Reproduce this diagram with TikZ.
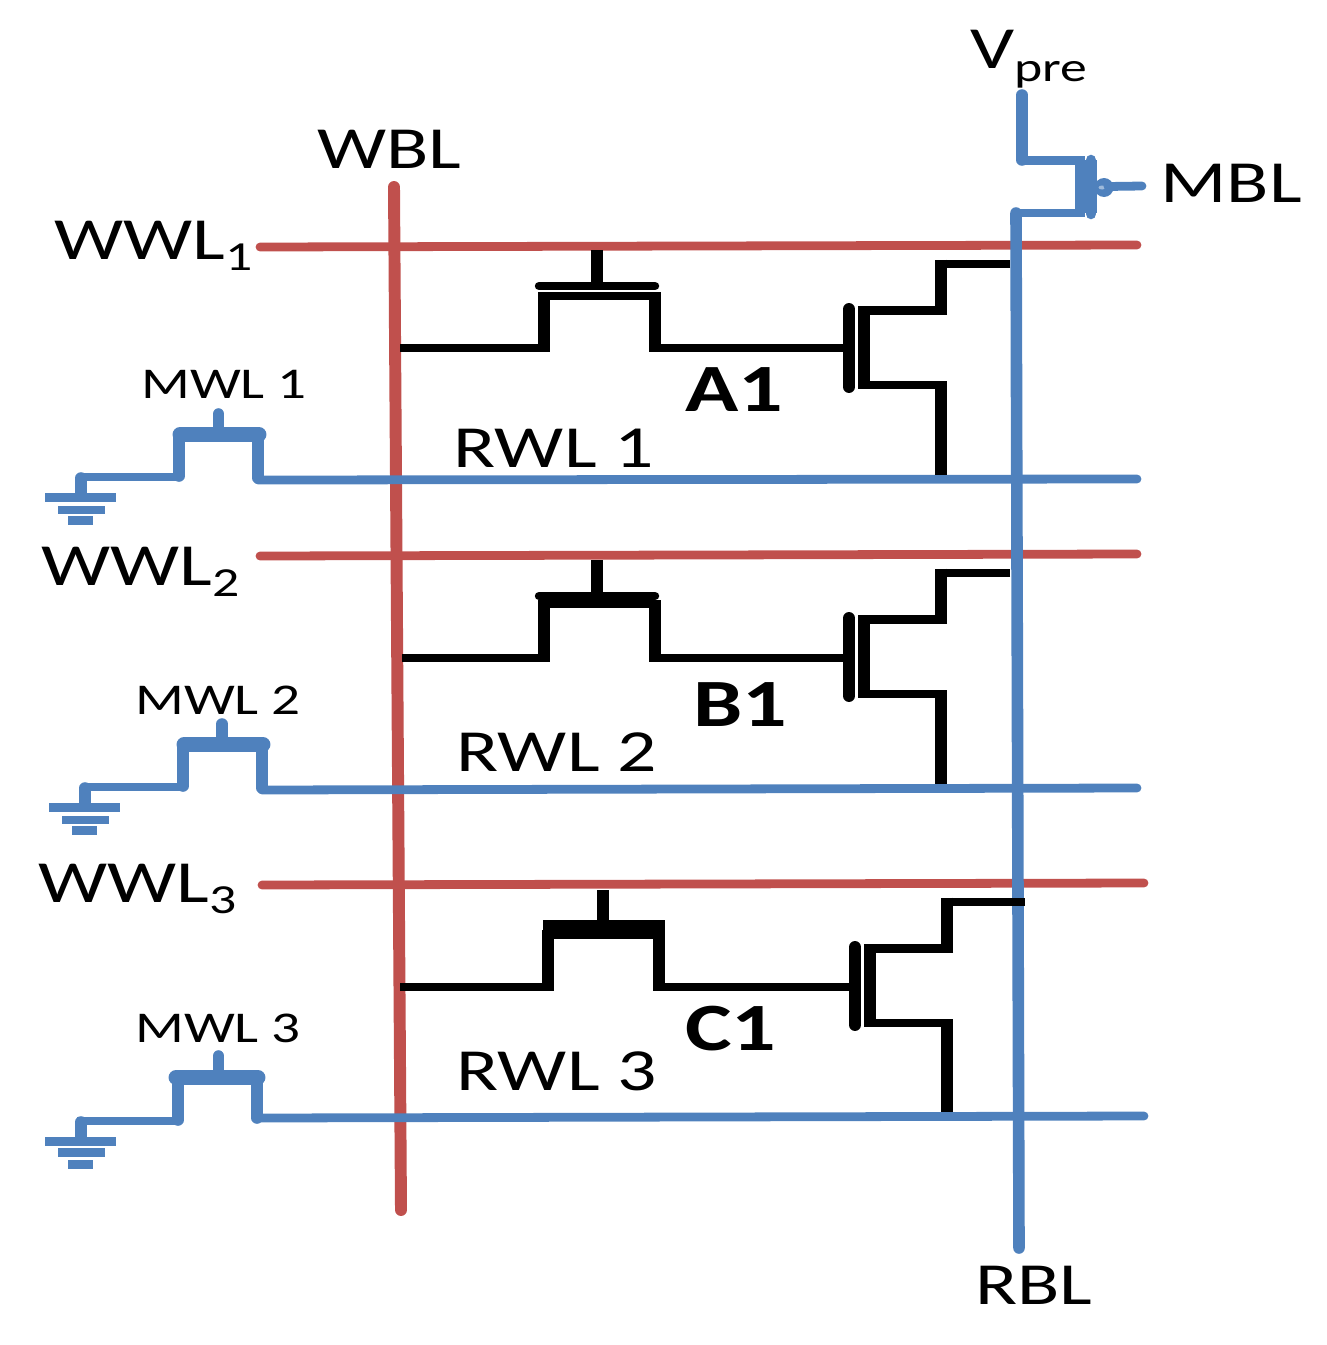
\documentclass[tikz,border=0pt]{standalone}
\usepackage{fontspec}
\setmainfont{Carlito}[FakeStretch=1.3]
\definecolor{wirered}{HTML}{C0504D}
\definecolor{wireblue}{HTML}{4F81BD}
\newcommand{\lblsub}[2][-6.8pt]{\raisebox{#1}{\fontsize{23.5}{23.5}\selectfont #2}}
\tikzset{
    redline/.style={draw=wirered, line width=5pt, line cap=round},
    redvert/.style={draw=wirered, line width=6.8pt, line cap=round},
    blueline/.style={draw=wireblue, line width=5pt, line join=round},
    bluevert/.style={draw=wireblue, line width=6.6pt, line cap=round},
    gndbar/.style={draw=wireblue, line width=5pt},
    blacksig/.style={draw=black, line width=4.8pt, line join=round},
    blackvert/.style={draw=black, line width=6.8pt},
    lbl/.style={anchor=base west, inner sep=0pt},
    biglbl/.style={lbl, font=\fontsize{34}{34}\selectfont},
    midlbl/.style={lbl, font=\fontsize{34}{34}\selectfont},
    smalllbl/.style={lbl, font=\fontsize{25}{25}\selectfont},
    celllbl/.style={lbl, font=\fontsize{38.5}{38.5}\selectfont\bfseries}
}
\begin{document}
\begin{tikzpicture}[x=0.02cm, y=-0.02cm]
        \useasboundingbox (0,0) rectangle (1326,1345);

        % bus ends
        \coordinate (wbltop) at (394,187);
        \coordinate (wblbot) at (401,1210);
        \coordinate (wwl1w) at (260,247);
        \coordinate (wwl1e) at (1137,245);
        \coordinate (wwl2w) at (260,556);
        \coordinate (wwl2e) at (1137,554);
        \coordinate (wwl3w) at (262,885);
        \coordinate (wwl3e) at (1144,883);
        \coordinate (rwl1e) at (1137,479);
        \coordinate (rwl2e) at (1137,788);
        \coordinate (rwl3e) at (1144,1116);
        \coordinate (rbltop) at (1016,213);
        \coordinate (rblbot) at (1019,1248);
        \coordinate (vpre) at (1022,95);
        \coordinate (mblout) at (1142,186);

        % red lines
        \draw[redvert] (wbltop) -- (wblbot);
        \draw[redline] (wwl1w) -- (wwl1e);
        \draw[redline] (wwl2w) -- (wwl2e);
        \draw[redline] (wwl3w) -- (wwl3e);

        % precharge device
        \draw[bluevert] (vpre) -- (1022,160);
        \draw[blueline] (1019,160.5) -- (1085,160.5);
        \draw[bluevert] (rblbot) -- (rbltop);
        \draw[blueline] (1012,213) -- (1085,213);
        \fill[wireblue] (1075,160) rectangle (1097,213);
        \draw[bluevert, line width=6pt] (1091,160) -- (1091,214);
        \fill[wireblue] (1104,187.5) ellipse (9.5 and 9.5);
        \fill[wireblue!55!white] (1102,187.5) ellipse (3.5 and 2);
        \draw[blueline, line cap=round] (1108,186.5) -- (mblout);

        % row 1 select and RWL
        \draw[blueline, line cap=round] (rwl1e) -- (258,480);
        \draw[blueline] (179,477) -- (81,477);
        \draw[bluevert] (258,435) -- (258,478) (179,435) -- (179,476) (81,478) -- (81,494);
        \draw[blueline, line width=8.5pt, line cap=round] (180,434.5) -- (259,434.5);
        \draw[bluevert] (218.5,414) -- (218.5,432);
        \draw[gndbar] (45,497.5) -- (116,497.5) (58,510) -- (105,510) (68,520.5) -- (93,520.5);

        % row 2 select and RWL
        \draw[blueline, line cap=round] (rwl2e) -- (262,790);
        \draw[blueline] (183,787) -- (85,787);
        \draw[bluevert] (262,745) -- (262,788) (183,745) -- (183,786) (85,788) -- (85,804);
        \draw[blueline, line width=8.5pt, line cap=round] (184,744.5) -- (263,744.5);
        \draw[bluevert] (222,724) -- (222,742);
        \draw[gndbar] (49,807.5) -- (120,807.5) (62,820) -- (109,820) (72,830.5) -- (97,830.5);

        % row 3 select and RWL
        \draw[blueline, line cap=round] (rwl3e) -- (258,1118);
        \draw[blueline] (178,1121) -- (77,1121);
        \draw[bluevert] (257,1078) -- (257,1118) (178,1078) -- (178,1120) (81,1122) -- (81,1138);
        \draw[blueline, line width=8.5pt, line cap=round] (176,1077.5) -- (258,1077.5);
        \draw[bluevert] (218.5,1056) -- (218.5,1075);
        \draw[gndbar] (45,1141.5) -- (116,1141.5) (58,1152.5) -- (105,1152.5) (68,1164.5) -- (93,1164.5);

        % cell A1
        \coordinate (a1) at (400,348);
        \coordinate (a1d) at (1010,264);
        \draw[blacksig] (a1) -- (544,348) (544,296) -- (655,296) (655,348) -- (845,348);
        \draw[blackvert] (544,292) -- (544,352) (655,292) -- (655,352);
        \draw[blacksig, line cap=round] (539,286) -- (655,286);
        \draw[blackvert] (597,250) -- (597,285);
        \draw[blacksig] (a1d) -- (935,264) (947,310.5) -- (858,310.5) (858,385) -- (947,385);
        \draw[blackvert] (941,259.6) -- (941,315) (941,381) -- (941,475) (864,306) -- (864,389);
        \draw[blackvert, line cap=round] (849,309) -- (849,387);

        % cell B1
        \coordinate (b1) at (402,658);
        \coordinate (b1d) at (1010,573);
        \draw[blacksig] (b1) -- (544,658) (544,604) -- (655,604) (655,658) -- (845,658);
        \draw[blackvert] (544,600) -- (544,662) (655,600) -- (655,662);
        \draw[blacksig, line cap=round] (539,596) -- (655,596);
        \draw[blackvert] (597,560) -- (597,596);
        \draw[blacksig] (b1d) -- (935,573) (947,619.5) -- (858,619.5) (858,694) -- (947,694);
        \draw[blackvert] (941,568.6) -- (941,624) (941,690) -- (941,784) (864,615) -- (864,698);
        \draw[blackvert, line cap=round] (849,618) -- (849,696);

        % cell C1
        \coordinate (c1) at (400,987);
        \coordinate (c1d) at (1025,902);
        \draw[blacksig] (c1) -- (548,987) (659,987) -- (852,987);
        \draw[blackvert] (548,930) -- (548,991) (659,930) -- (659,991);
        \draw[blacksig, line width=10.5pt] (543,929.5) -- (665,929.5);
        \draw[blackvert] (603,890) -- (603,925);
        \draw[blacksig] (c1d) -- (941,902) (953,948.5) -- (864,948.5) (864,1023) -- (953,1023);
        \draw[blackvert] (947,897.6) -- (947,953) (947,1019) -- (947,1112) (870,944) -- (870,1027);
        \draw[blackvert, line cap=round] (855,947) -- (855,1025);

        % labels
        \node[biglbl] (vprelbl) at (970,69) {V\lblsub[-7.4pt]{pre}};
        \node[biglbl] (wbllbl) at (317,168) {WBL};
        \node[biglbl] (mbllbl) at (1160,202) {MBL};
        \node[biglbl] (rbllbl) at (975,1304) {RBL};
        \node[biglbl] (wwl1lbl) at (54,259) {WWL\lblsub{1}};
        \node[biglbl] (wwl2lbl) at (41,585) {WWL\lblsub{2}};
        \node[biglbl] (wwl3lbl) at (38,902) {WWL\lblsub{3}};
        \node[midlbl] (rwl1lbl) at (453,467) {RWL 1};
        \node[midlbl] (rwl2lbl) at (456,771) {RWL 2};
        \node[midlbl] (rwl3lbl) at (456,1090) {RWL 3};
        \node[smalllbl] (mwl1lbl) at (141,398) {MWL 1};
        \node[smalllbl] (mwl2lbl) at (135,714) {MWL 2};
        \node[smalllbl] (mwl3lbl) at (135,1042) {MWL 3};
        \node[celllbl] (a1lbl) at (685,411) {A1};
        \node[celllbl] (b1lbl) at (693,726) {B1};
        \node[celllbl] (c1lbl) at (685,1050) {C1};
    \end{tikzpicture}
\end{document}
